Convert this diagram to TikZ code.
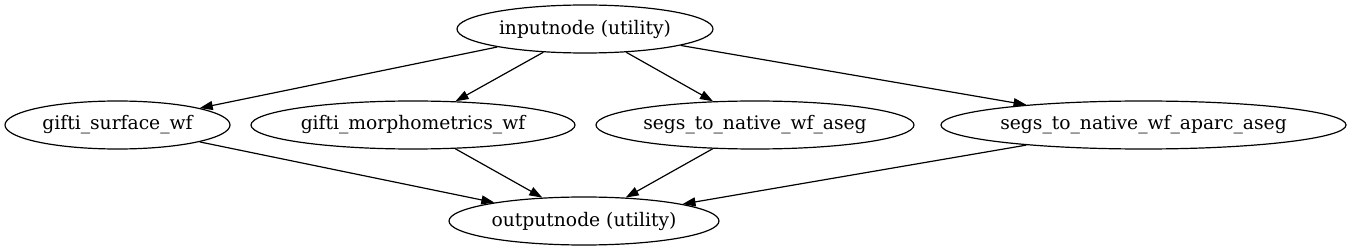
\documentclass[tikz,border=0pt]{standalone}
\usepackage{fontspec}
\setmainfont{DejaVu Serif}
\usetikzlibrary{shapes.geometric,arrows.meta}
\begin{document}
\begin{tikzpicture}[x=1pt,y=-1pt,
  nd/.style={draw,ellipse,line width=1.2pt,inner sep=0pt,font=\fontsize{18.7}{22}\selectfont},
  ed/.style={line width=1.2pt,-{Triangle[length=13pt,width=9pt]}}]
\useasboundingbox (0,0) rectangle (1347,251);
\node[nd,minimum width=256,minimum height=48] (in) at (585,29) {inputnode (utility)};
\node[nd,minimum width=225,minimum height=48] (gs) at (117.5,125) {gifti\_surface\_wf};
\node[nd,minimum width=324,minimum height=48] (gm) at (413,125) {gifti\_morphometrics\_wf};
\node[nd,minimum width=318,minimum height=48] (sa) at (755,125) {segs\_to\_native\_wf\_aseg};
\node[nd,minimum width=404,minimum height=48] (sp) at (1143.5,125) {segs\_to\_native\_wf\_aparc\_aseg};
\node[nd,minimum width=270,minimum height=48] (out) at (584,221) {outputnode (utility)};
\foreach \t in {gs,gm,sa,sp} {
  \draw[ed] (in) -- (\t);
  \draw[ed] (\t) -- (out);
}
\end{tikzpicture}
\end{document}
